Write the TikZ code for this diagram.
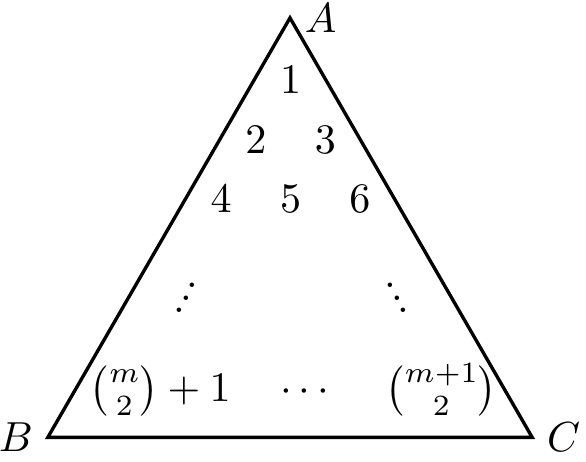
\documentclass[tikz,border=0pt]{standalone}
\usepackage{amssymb}
\usepackage{amsmath}
\usepackage{tikz}

\newcommand{\risedots}{\hbox{\raise0pt\hbox{.}\kern-1.2pt\raise3pt\hbox{.}\kern-1.2pt\raise6pt\hbox{.}}}
\newcommand{\falldots}{\hbox{\raise6pt\hbox{.}\kern-1.2pt\raise3pt\hbox{.}\kern-1.2pt\raise0pt\hbox{.}}}

\begin{document}
\begin{tikzpicture}
	\useasboundingbox (-0.40,-0.20) rectangle (4.50,3.657);
	
	%TRIANGLE
	\coordinate (B) at (0,0);
	\coordinate (C) at (4.05,0);
	\coordinate (A) at (60:4.05);
	\draw[thick] (A)--(B)--(C)--cycle;
	\node[right] (labA) at (A) {$A$};
	\node[left] (labB) at (B) {$B$};
	\node[right] (labC) at (C) {$C$};
	
	%ENTRIES
	\foreach \k/\c/\r in {1/0/0,2/-1/1,3/1/1,4/-2/2,5/0/2,6/2/2}{	%first three rows
		\node (n\k) at ({2.03+0.29*\c},{2.99-0.5*\r}) {$\k$};
	}
	\node (upd) at (1.155,1.165) {\risedots};				%left dots
	\node (dnd) at (2.921,1.165) {\falldots};				%right dots
	
	%LAST ROW
	\node[anchor=base] (first) at (0.941,0.301) {$\binom{m}{2}+1$};
	\node[anchor=base] (mid) at (2.176,0.301) {$\cdots$};
	\node[anchor=base] (last) at (3.289,0.301) {$\binom{m+1}{2}$};
	
%	\draw[help lines,step=0.5] (-0.4,-0.2) grid (4.5,3.6);
\end{tikzpicture}
\end{document}
